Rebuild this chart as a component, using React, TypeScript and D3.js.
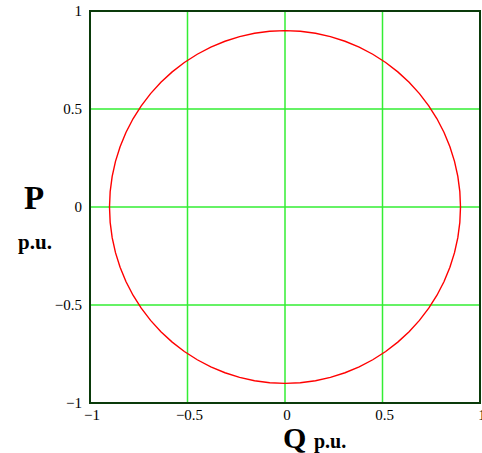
import React from "react";
import * as d3 from "d3";

const qValues = [
  0.9, 0.8966, 0.8863, 0.8693, 0.8457, 0.8157, 0.7794, 0.7372, 0.6894, 0.6364, 0.5785, 0.5162, 0.45, 0.3804, 0.3078, 0.2329, 0.1563, 0.0784,
  0, -0.0784, -0.1563, -0.2329, -0.3078, -0.3804, -0.45, -0.5162, -0.5785, -0.6364, -0.6894, -0.7372, -0.7794, -0.8157, -0.8457, -0.8693, -0.8863, -0.8966,
  -0.9, -0.8966, -0.8863, -0.8693, -0.8457, -0.8157, -0.7794, -0.7372, -0.6894, -0.6364, -0.5785, -0.5162, -0.45, -0.3804, -0.3078, -0.2329, -0.1563, -0.0784,
  0, 0.0784, 0.1563, 0.2329, 0.3078, 0.3804, 0.45, 0.5162, 0.5785, 0.6364, 0.6894, 0.7372, 0.7794, 0.8157, 0.8457, 0.8693, 0.8863, 0.8966, 0.9,
];
const pValues = [
  0, 0.0784, 0.1563, 0.2329, 0.3078, 0.3804, 0.45, 0.5162, 0.5785, 0.6364, 0.6894, 0.7372, 0.7794, 0.8157, 0.8457, 0.8693, 0.8863, 0.8966,
  0.9, 0.8966, 0.8863, 0.8693, 0.8457, 0.8157, 0.7794, 0.7372, 0.6894, 0.6364, 0.5785, 0.5162, 0.45, 0.3804, 0.3078, 0.2329, 0.1563, 0.0784,
  0, -0.0784, -0.1563, -0.2329, -0.3078, -0.3804, -0.45, -0.5162, -0.5785, -0.6364, -0.6894, -0.7372, -0.7794, -0.8157, -0.8457, -0.8693, -0.8863, -0.8966,
  -0.9, -0.8966, -0.8863, -0.8693, -0.8457, -0.8157, -0.7794, -0.7372, -0.6894, -0.6364, -0.5785, -0.5162, -0.45, -0.3804, -0.3078, -0.2329, -0.1563, -0.0784, 0,
];
const xTicks = [-1, -0.5, 0, 0.5, 1];
const yTicks = [-1, -0.5, 0, 0.5, 1];
const tickLabels = ["\u22121", "\u22120.5", "0", "0.5", "1"];

export default function App() {
  const W = 482, H = 453;
  const x = d3.scaleLinear().domain([-1, 1]).range([90, 480]);
  const y = d3.scaleLinear().domain([-1, 1]).range([403, 11]);
  const pts: [number, number][] = qValues.map((q, i) => [q, pValues[i]]);
  const line = d3.line<[number, number]>().x(d => x(d[0])).y(d => y(d[1]));
  const font = "'Liberation Serif', 'Times New Roman', serif";
  return (
    <svg width={W} height={H} style={{ position: "absolute", left: 0, top: 0 }} fontFamily={font}>
      <rect x={0} y={0} width={W} height={H} fill="#fff" />
      {xTicks.slice(1, -1).map(t => (
        <line key={"gx" + t} x1={x(t)} x2={x(t)} y1={y(-1)} y2={y(1)} stroke="#33ee33" strokeWidth={1.5} />
      ))}
      {yTicks.slice(1, -1).map(t => (
        <line key={"gy" + t} x1={x(-1)} x2={x(1)} y1={y(t)} y2={y(t)} stroke="#33ee33" strokeWidth={1.5} />
      ))}
      <path d={line(pts) || ""} fill="none" stroke="#ff0000" strokeWidth={1.4} />
      <rect x={x(-1)} y={y(1)} width={x(1) - x(-1)} height={y(-1) - y(1)} fill="none" stroke="#0a3a0a" strokeWidth={2} />
      {yTicks.map((t, i) => (
        <text key={"yl" + t} x={82} y={y(t) + 5} textAnchor="end" fontSize={15}>{tickLabels[i]}</text>
      ))}
      {xTicks.map((t, i) => (
        <text key={"xl" + t} x={x(t) + 2} y={420} textAnchor="middle" fontSize={15}>{tickLabels[i]}</text>
      ))}
      <text x={34} y={209} textAnchor="middle" fontSize={33} fontWeight="bold">P</text>
      <text x={35} y={249} textAnchor="middle" fontSize={21} fontWeight="bold">p.u.</text>
      <text x={283} y={448} fontSize={30} fontWeight="bold">Q</text>
      <text x={314} y={448} fontSize={20} fontWeight="bold">p.u.</text>
    </svg>
  );
}
